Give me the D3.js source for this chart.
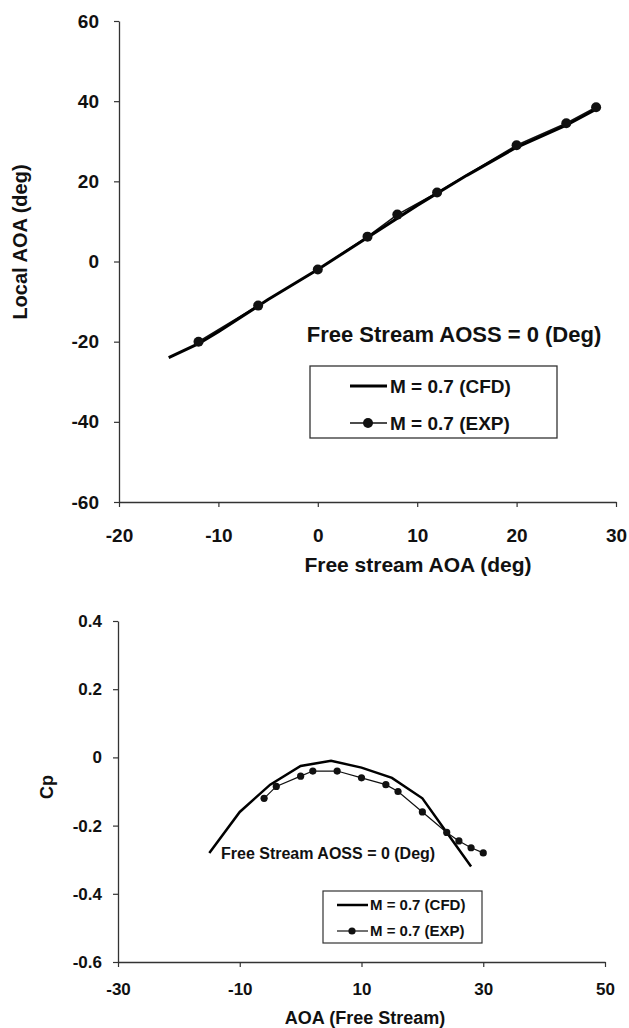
<!DOCTYPE html>
<html>
<head>
<meta charset="utf-8">
<script src="https://cdn.jsdelivr.net/npm/d3@7"></script>
<style>
  body { margin: 0; background: #fff; }
  svg text { font-family: "Liberation Sans", Arial, sans-serif; font-weight: bold; fill: #111; }
</style>
</head>
<body>
<svg id="chart" width="629" height="1028"></svg>
<script>
// ---- top panel data: local AOA vs free stream AOA ----
const topCfdAoa   = [-15, -12, -10, -5, 0, 5, 10, 15, 20, 25, 28];
const topCfdLocal = [-24, -20.5, -17.5, -9.5, -2, 6, 14, 21.5, 28.5, 34, 38];
const topExpAoa   = [-12, -6, 0, 5, 8, 12, 20, 25, 28];
const topExpLocal = [-20, -11, -2, 6.2, 11.7, 17.2, 29, 34.5, 38.5];
const topXTicks = [-20, -10, 0, 10, 20, 30];
const topYTicks = [-60, -40, -20, 0, 20, 40, 60];

// ---- bottom panel data: Cp vs AOA ----
const botCfdAoa = [-15, -10, -5, 0, 5, 10, 15, 20, 25, 28];
const botCfdCp  = [-0.28, -0.16, -0.08, -0.025, -0.01, -0.03, -0.06, -0.12, -0.245, -0.32];
const botExpAoa = [-6, -4, 0, 2, 6, 10, 14, 16, 20, 24, 26, 28, 30];
const botExpCp  = [-0.12, -0.085, -0.055, -0.04, -0.04, -0.06, -0.08, -0.10, -0.16, -0.22, -0.245, -0.265, -0.28];
const botXTicks = [-30, -10, 10, 30, 50];
const botYTicks = [-0.6, -0.4, -0.2, 0, 0.2, 0.4];

const seriesNames = ["M = 0.7 (CFD)", "M = 0.7 (EXP)"];
const noteText = "Free Stream AOSS = 0 (Deg)";

const svg = d3.select("#chart");

function styleAxis(g, fontSize) {
  g.select(".domain").attr("stroke", "#333").attr("stroke-width", 1.3);
  g.selectAll(".tick line").attr("stroke", "#333").attr("stroke-width", 1.2);
  g.selectAll(".tick text").attr("font-size", fontSize).attr("fill", "#111");
}

// ================= top chart =================
const xT = d3.scaleLinear().domain([-20, 30]).range([119, 616]);
const yT = d3.scaleLinear().domain([-60, 60]).range([502, 21]);

svg.append("g").attr("transform", "translate(0,502)")
  .call(d3.axisBottom(xT).tickValues(topXTicks).tickSize(5).tickSizeOuter(0)
    .tickPadding(22).tickFormat(d => String(d)))
  .call(g => styleAxis(g, 19));

svg.append("g").attr("transform", "translate(119,0)")
  .call(d3.axisLeft(yT).tickValues(topYTicks).tickSize(5).tickSizeOuter(0)
    .tickPadding(15).tickFormat(d => String(d)))
  .call(g => styleAxis(g, 19));

const lineT = d3.line().x(d => xT(d[0])).y(d => yT(d[1]));

svg.append("path").datum(d3.zip(topExpAoa, topExpLocal))
  .attr("d", lineT).attr("fill", "none").attr("stroke", "#111").attr("stroke-width", 1.5);
svg.append("path").datum(d3.zip(topCfdAoa, topCfdLocal))
  .attr("d", lineT).attr("fill", "none").attr("stroke", "#000").attr("stroke-width", 3);
svg.append("g").selectAll("circle").data(d3.zip(topExpAoa, topExpLocal)).join("circle")
  .attr("cx", d => xT(d[0])).attr("cy", d => yT(d[1])).attr("r", 5).attr("fill", "#111");

svg.append("text").attr("x", 418).attr("y", 572).attr("text-anchor", "middle")
  .attr("font-size", 21).text("Free stream AOA (deg)");
svg.append("text").attr("transform", "translate(27,242) rotate(-90)").attr("text-anchor", "middle")
  .attr("font-size", 20).text("Local AOA (deg)");

svg.append("text").attr("x", 454).attr("y", 342).attr("text-anchor", "middle")
  .attr("font-size", 22).text(noteText);

// legend (top)
const lgT = svg.append("g");
lgT.append("rect").attr("x", 310).attr("y", 366).attr("width", 247).attr("height", 72)
  .attr("fill", "#fff").attr("stroke", "#333").attr("stroke-width", 1.3);
lgT.append("line").attr("x1", 350).attr("x2", 387).attr("y1", 386).attr("y2", 386)
  .attr("stroke", "#000").attr("stroke-width", 3);
lgT.append("line").attr("x1", 350).attr("x2", 387).attr("y1", 423).attr("y2", 423)
  .attr("stroke", "#111").attr("stroke-width", 1.5);
lgT.append("circle").attr("cx", 368).attr("cy", 423).attr("r", 5).attr("fill", "#111");
lgT.selectAll("text.lab").data(seriesNames).join("text").attr("class", "lab")
  .attr("x", 390).attr("y", (d, i) => [386, 423][i]).attr("dy", "0.36em")
  .attr("font-size", 19).text(d => d);

// ================= bottom chart =================
const xB = d3.scaleLinear().domain([-30, 50]).range([118, 605]);
const yB = d3.scaleLinear().domain([-0.6, 0.4]).range([962, 621]);

svg.append("g").attr("transform", "translate(0,962)")
  .call(d3.axisBottom(xB).tickValues(botXTicks).tickSize(5).tickSizeOuter(0)
    .tickPadding(16).tickFormat(d => String(d)))
  .call(g => styleAxis(g, 17));

svg.append("g").attr("transform", "translate(118,0)")
  .call(d3.axisLeft(yB).tickValues(botYTicks).tickSize(5).tickSizeOuter(0)
    .tickPadding(11).tickFormat(d => Math.abs(d) < 1e-9 ? "0" : d.toFixed(1)))
  .call(g => styleAxis(g, 17));

const lineB = d3.line().x(d => xB(d[0])).y(d => yB(d[1]));

svg.append("path").datum(d3.zip(botExpAoa, botExpCp))
  .attr("d", lineB).attr("fill", "none").attr("stroke", "#111").attr("stroke-width", 1.2);
svg.append("path").datum(d3.zip(botCfdAoa, botCfdCp))
  .attr("d", lineB).attr("fill", "none").attr("stroke", "#000").attr("stroke-width", 2.5);
svg.append("g").selectAll("circle").data(d3.zip(botExpAoa, botExpCp)).join("circle")
  .attr("cx", d => xB(d[0])).attr("cy", d => yB(d[1])).attr("r", 3.6).attr("fill", "#111");

svg.append("text").attr("x", 365).attr("y", 1024).attr("text-anchor", "middle")
  .attr("font-size", 18).text("AOA (Free Stream)");
svg.append("text").attr("transform", "translate(53,787) rotate(-90)").attr("text-anchor", "middle")
  .attr("font-size", 18).text("Cp");

svg.append("text").attr("x", 221).attr("y", 859)
  .attr("font-size", 16).text(noteText);

// legend (bottom)
const lgB = svg.append("g");
lgB.append("rect").attr("x", 323).attr("y", 891).attr("width", 159).attr("height", 52)
  .attr("fill", "#fff").attr("stroke", "#333").attr("stroke-width", 1.2);
lgB.append("line").attr("x1", 337).attr("x2", 368).attr("y1", 905).attr("y2", 905)
  .attr("stroke", "#000").attr("stroke-width", 2.5);
lgB.append("line").attr("x1", 337).attr("x2", 368).attr("y1", 931).attr("y2", 931)
  .attr("stroke", "#111").attr("stroke-width", 1.2);
lgB.append("circle").attr("cx", 352).attr("cy", 931).attr("r", 3.6).attr("fill", "#111");
lgB.selectAll("text.lab").data(seriesNames).join("text").attr("class", "lab")
  .attr("x", 370).attr("y", (d, i) => [905, 931][i]).attr("dy", "0.36em")
  .attr("font-size", 15).text(d => d);
</script>
</body>
</html>
